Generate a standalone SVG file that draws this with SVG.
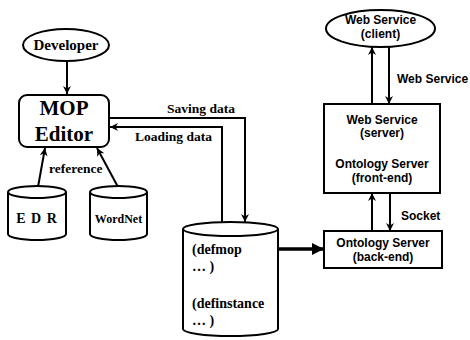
<svg xmlns="http://www.w3.org/2000/svg" width="470" height="340" viewBox="0 0 470 340">
<style>
.shp{fill:#fff;stroke:#000;stroke-width:2}
.ln{fill:none;stroke:#000;stroke-width:2}
.lnb{fill:none;stroke:#000;stroke-width:3.5}
.sf{font-family:"Liberation Serif","Times New Roman",serif;font-weight:bold;fill:#000}
.ss{font-family:"Liberation Sans",Arial,sans-serif;font-weight:bold;fill:#000;font-size:12px}
</style>
<defs>
<marker id="ah" viewBox="0 0 10 10" refX="10" refY="5" markerWidth="9" markerHeight="8" markerUnits="userSpaceOnUse" orient="auto">
<path d="M0,0 L10,5 L0,10 L3,5 z" fill="#000"/>
</marker>
<marker id="ahb" viewBox="0 0 10 10" refX="10" refY="5" markerWidth="13" markerHeight="12" markerUnits="userSpaceOnUse" orient="auto">
<path d="M0,0 L10,5 L0,10 z" fill="#000"/>
</marker>
</defs>

<g id="connectors">
<path class="ln" d="M67,61 V94" marker-end="url(#ah)"/>
<path class="ln" d="M109,118 H245 V222" marker-end="url(#ah)"/>
<path class="ln" d="M222,222 V127 H110" marker-end="url(#ah)"/>
<path class="ln" d="M38,187 L45,148" marker-end="url(#ah)"/>
<path class="ln" d="M118,187 L97,148" marker-end="url(#ah)"/>
<path class="lnb" d="M278,249 H324" marker-end="url(#ahb)"/>
<path class="ln" d="M372,104 V47" marker-end="url(#ah)"/>
<path class="ln" d="M389,47 V104" marker-end="url(#ah)"/>
<path class="ln" d="M372,231 V193" marker-end="url(#ah)"/>
<path class="ln" d="M390,193 V231" marker-end="url(#ah)"/>
<text class="sf" x="167" y="113" font-size="13.5">Saving data</text>
<text class="sf" x="135" y="141" font-size="13.5">Loading data</text>
<text class="sf" x="49" y="173" font-size="13.5">reference</text>
<text class="ss" x="397" y="83">Web Service</text>
<text class="ss" x="401" y="220">Socket</text>
</g>

<g id="developer">
<ellipse class="shp" cx="66" cy="45" rx="43" ry="16"/>
<text class="sf" x="66" y="50" font-size="15" text-anchor="middle">Developer</text>
</g>

<g id="mop-editor">
<rect class="shp" x="19" y="95" width="90" height="52" rx="8"/>
<text class="sf" x="64" y="115" font-size="21" text-anchor="middle">MOP</text>
<text class="sf" x="64" y="141" font-size="21" text-anchor="middle">Editor</text>
</g>

<g id="edr">
<path class="shp" d="M8,192 V234 A29,6 0 0 0 66,234 V192"/>
<ellipse class="shp" cx="37" cy="192" rx="29" ry="6"/>
<text class="sf" x="37" y="223" font-size="14" text-anchor="middle" letter-spacing="1">E D R</text>
</g>

<g id="wordnet">
<path class="shp" d="M90,192 V234 A28.5,6 0 0 0 147,234 V192"/>
<ellipse class="shp" cx="118.5" cy="192" rx="28.5" ry="6"/>
<text class="sf" x="118.5" y="223" font-size="12" text-anchor="middle">WordNet</text>
</g>

<g id="database">
<path class="shp" d="M183,229 V329 A47.5,7 0 0 0 278,329 V229"/>
<ellipse class="shp" cx="230.5" cy="229" rx="47.5" ry="7"/>
<text class="sf" x="192" y="254" font-size="14">(defmop</text>
<text class="sf" x="192" y="271" font-size="14">… )</text>
<text class="sf" x="192" y="308" font-size="14">(definstance</text>
<text class="sf" x="192" y="325" font-size="14">… )</text>
</g>

<g id="ws-client">
<ellipse class="shp" cx="380.5" cy="28.5" rx="54.5" ry="18.5"/>
<text class="ss" x="380.5" y="24" text-anchor="middle">Web Service</text>
<text class="ss" x="380.5" y="38" text-anchor="middle">(client)</text>
</g>

<g id="ws-server">
<rect class="shp" x="324" y="104" width="116" height="89"/>
<text class="ss" x="382" y="124" text-anchor="middle">Web Service</text>
<text class="ss" x="382" y="137" text-anchor="middle">(server)</text>
<text class="ss" x="382" y="168" text-anchor="middle">Ontology Server</text>
<text class="ss" x="382" y="182" text-anchor="middle">(front-end)</text>
</g>

<g id="onto-backend">
<rect class="shp" x="324" y="231" width="118" height="37"/>
<text class="ss" x="383" y="247" text-anchor="middle">Ontology Server</text>
<text class="ss" x="383" y="261" text-anchor="middle">(back-end)</text>
</g>
</svg>
